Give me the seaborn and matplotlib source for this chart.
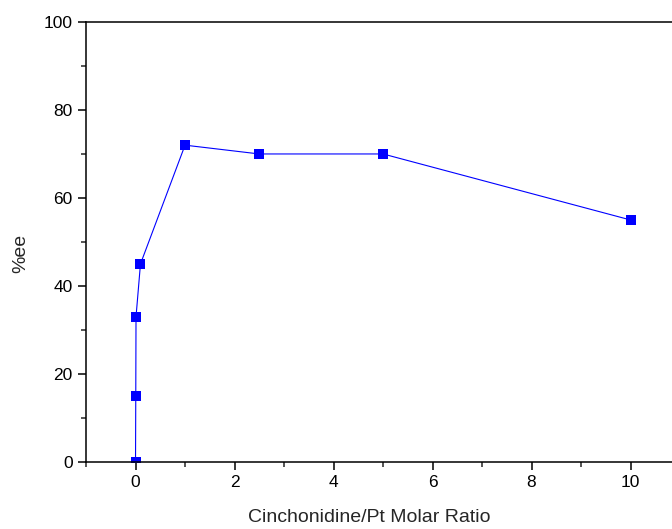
import matplotlib
matplotlib.use("Agg")
import matplotlib.pyplot as plt
import pandas as pd
import seaborn as sns
from matplotlib.ticker import MultipleLocator

sns.set_style("ticks")
plt.rcParams["font.family"] = ["Liberation Sans", "DejaVu Sans"]

ratio = [0.0, 0.005, 0.01, 0.1, 1.0, 2.5, 5.0, 10.0]
ee = [0, 15, 33, 45, 72, 70, 70, 55]
df = pd.DataFrame({"ratio": ratio, "ee": ee})

fig = plt.figure(figsize=(6.72, 5.29), dpi=100)
ax = fig.add_axes([0.128, 0.1267, 0.884, 0.8318])

sns.lineplot(data=df, x="ratio", y="ee", ax=ax, color="#0000ff",
             linewidth=0.8, marker="s", markersize=7, markeredgewidth=0,
             sort=False)

ax.set_xlim(-1, 11)
ax.set_ylim(0, 100)
ax.xaxis.set_major_locator(MultipleLocator(2))
ax.xaxis.set_minor_locator(MultipleLocator(1))
ax.yaxis.set_major_locator(MultipleLocator(20))
ax.yaxis.set_minor_locator(MultipleLocator(10))

for s in ax.spines.values():
    s.set_linewidth(1.1)
    s.set_color("black")
ax.tick_params(which="major", direction="out", length=6, width=1.1,
               labelsize=12.5, colors="black")
ax.tick_params(which="minor", direction="out", length=3.5, width=1.1)

ax.set_xlabel("Cinchonidine/Pt Molar Ratio", fontsize=14, va="center")
ax.set_ylabel("%ee", fontsize=14, va="center")
ax.xaxis.set_label_coords(0.476, -0.127)
ax.yaxis.set_label_coords(-0.110, 0.475)

fig.savefig("out.png", dpi=100)
